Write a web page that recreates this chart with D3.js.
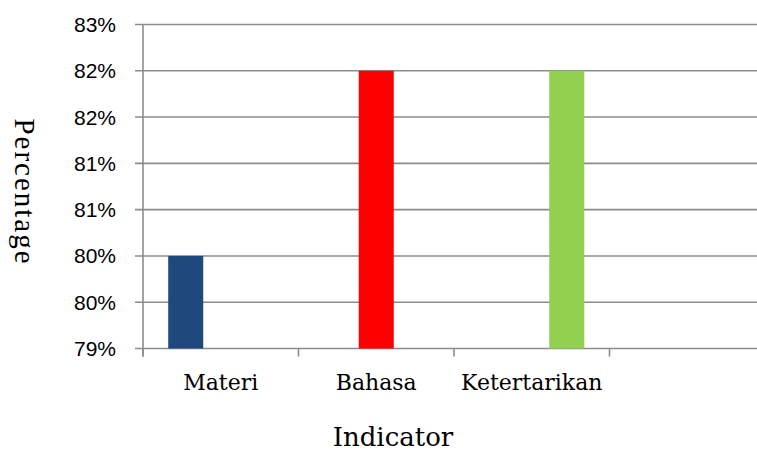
<!DOCTYPE html>
<html>
<head>
<meta charset="utf-8">
<script src="https://cdn.jsdelivr.net/npm/d3@7"></script>
<style>
  body { margin: 0; background: #fff; }
  svg { display: block; }
</style>
</head>
<body>
<svg id="chart" width="757" height="454"></svg>
<script>
// categories on the x axis (the 4th slot is empty in the original chart)
const categories = ["Materi", "Bahasa", "Ketertarikan", ""]
// one series per indicator, each only filled in its own category
const seriesNames = ["Materi", "Bahasa", "Ketertarikan"]
const seriesValues = [80, 82, 82]
const seriesColors = ["#1F497D", "#FF0000", "#92D050"]
const yTicks = [79, 79.5, 80, 80.5, 81, 81.5, 82, 82.5]
const yTickLabels = ["79%", "80%", "80%", "81%", "81%", "82%", "82%", "83%"]

const svg = d3.select("#chart")
const plot = { left: 143, right: 765, top: 24.5, bottom: 348.5 }

const x = d3.scaleBand().domain(categories).range([plot.left, plot.right]).padding(0)
const x1 = d3.scaleBand().domain(seriesNames).range([0, x.bandwidth()]).paddingInner(0).paddingOuter(0.72)
const y = d3.scaleLinear().domain([79, 82.5]).range([plot.bottom, plot.top])

const gridColor = "#8c8c8c"

// horizontal gridlines + little outside ticks
svg.append("g").selectAll("line").data(yTicks).join("line")
  .attr("x1", plot.left - 8).attr("x2", plot.right)
  .attr("y1", d => y(d)).attr("y2", d => y(d))
  .attr("stroke", gridColor).attr("stroke-width", 1.6)

// y tick labels
svg.append("g").selectAll("text").data(yTicks).join("text")
  .attr("x", 116).attr("y", d => y(d))
  .attr("dy", "0.36em")
  .attr("text-anchor", "end")
  .attr("font-family", "Liberation Sans, Arial, sans-serif")
  .attr("font-size", 21)
  .attr("fill", "#000")
  .text((d, i) => yTickLabels[i])

// bars: series i sits in category i
const bars = seriesNames.map((s, i) => ({ series: s, category: categories[i], value: seriesValues[i], color: seriesColors[i] }))
svg.append("g").selectAll("rect").data(bars).join("rect")
  .attr("x", d => x(d.category) + x1(d.series))
  .attr("width", x1.bandwidth())
  .attr("y", d => y(d.value))
  .attr("height", d => y(79) - y(d.value))
  .attr("fill", d => d.color)

// vertical axis line
svg.append("line")
  .attr("x1", plot.left).attr("x2", plot.left)
  .attr("y1", plot.top).attr("y2", plot.bottom + 8)
  .attr("stroke", gridColor).attr("stroke-width", 1.6)

// category boundary ticks
svg.append("g").selectAll("line").data(categories).join("line")
  .attr("x1", d => x(d)).attr("x2", d => x(d))
  .attr("y1", plot.bottom).attr("y2", plot.bottom + 8)
  .attr("stroke", gridColor).attr("stroke-width", 1.6)

// category labels
svg.append("g").selectAll("text").data(categories).join("text")
  .attr("x", d => x(d) + x.bandwidth() / 2)
  .attr("y", 390)
  .attr("text-anchor", "middle")
  .attr("font-family", "DejaVu Serif, serif")
  .attr("font-size", 22)
  .attr("fill", "#000")
  .text(d => d)

// axis titles
svg.append("text")
  .attr("x", 393).attr("y", 446)
  .attr("text-anchor", "middle")
  .attr("font-family", "DejaVu Serif, serif")
  .attr("font-size", 26)
  .text("Indicator")

svg.append("text")
  .attr("transform", "translate(15, 192) rotate(90)")
  .attr("text-anchor", "middle")
  .attr("font-family", "Liberation Serif, serif")
  .attr("font-size", 29)
  .attr("letter-spacing", 2)
  .text("Percentage")
</script>
</body>
</html>
